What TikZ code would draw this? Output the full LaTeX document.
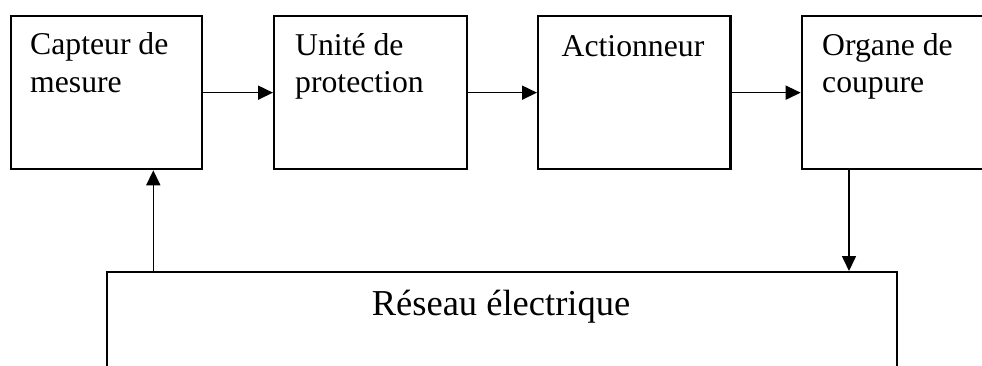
\documentclass[tikz,border=0pt]{standalone}
\usepackage{fontspec}
\setmainfont{Liberation Serif}
\usetikzlibrary{arrows.meta}
\begin{document}
\begin{tikzpicture}[x=1pt,y=-1pt,
  box/.style={draw,line width=2.3pt,rectangle,inner sep=0pt,anchor=north west},
  lbl/.style={inner sep=0pt,anchor=base west,font=\fontsize{31.7}{38}\selectfont},
  arr/.style={line width=1.6pt,-{Triangle[length=15pt,width=14pt]}}]
\useasboundingbox (0,0) rectangle (982,365);
\clip (0,0) rectangle (982,365);
% boxes
\node[box,minimum width=191.5pt,minimum height=153pt] (cap) at (9.5,15) {};
\node[box,minimum width=192.7pt,minimum height=153pt] (uni) at (273,15) {};
\node[box,minimum width=192.3pt,minimum height=153pt] (act) at (537,15) {};
\node[box,minimum width=250pt,minimum height=153pt] (org) at (800.7,15) {};
\node[box,minimum width=790.3pt,minimum height=150pt] (res) at (105.7,271) {};
% labels
\node[lbl] (t1) at (30,54) {Capteur de};
\node[lbl] (t2) at (30,92) {mesure};
\node[lbl] (t3) at (295,55) {Unité de};
\node[lbl] (t4) at (295,92.5) {protection};
\node[lbl,anchor=base] (t5) at (633,56) {Actionneur};
\node[lbl] (t6) at (822,55) {Organe de};
\node[lbl] (t7) at (822,92) {coupure};
\node[lbl,anchor=base,font=\fontsize{36.5}{44}\selectfont] (t8) at (501,315.5) {Réseau électrique};
% connectors
\draw[arr] (cap.east) -- (uni.west);
\draw[arr] (uni.east) -- (act.west);
\draw[arr] (act.east) -- (org.west);
\draw[arr] ([xshift=47.6pt]res.north west) -- ([xshift=47.6pt]res.north west |- cap.south);
\draw[arr] ([xshift=48.3pt]org.south west) -- ([xshift=48.3pt]org.south west |- res.north);
\end{tikzpicture}
\end{document}
